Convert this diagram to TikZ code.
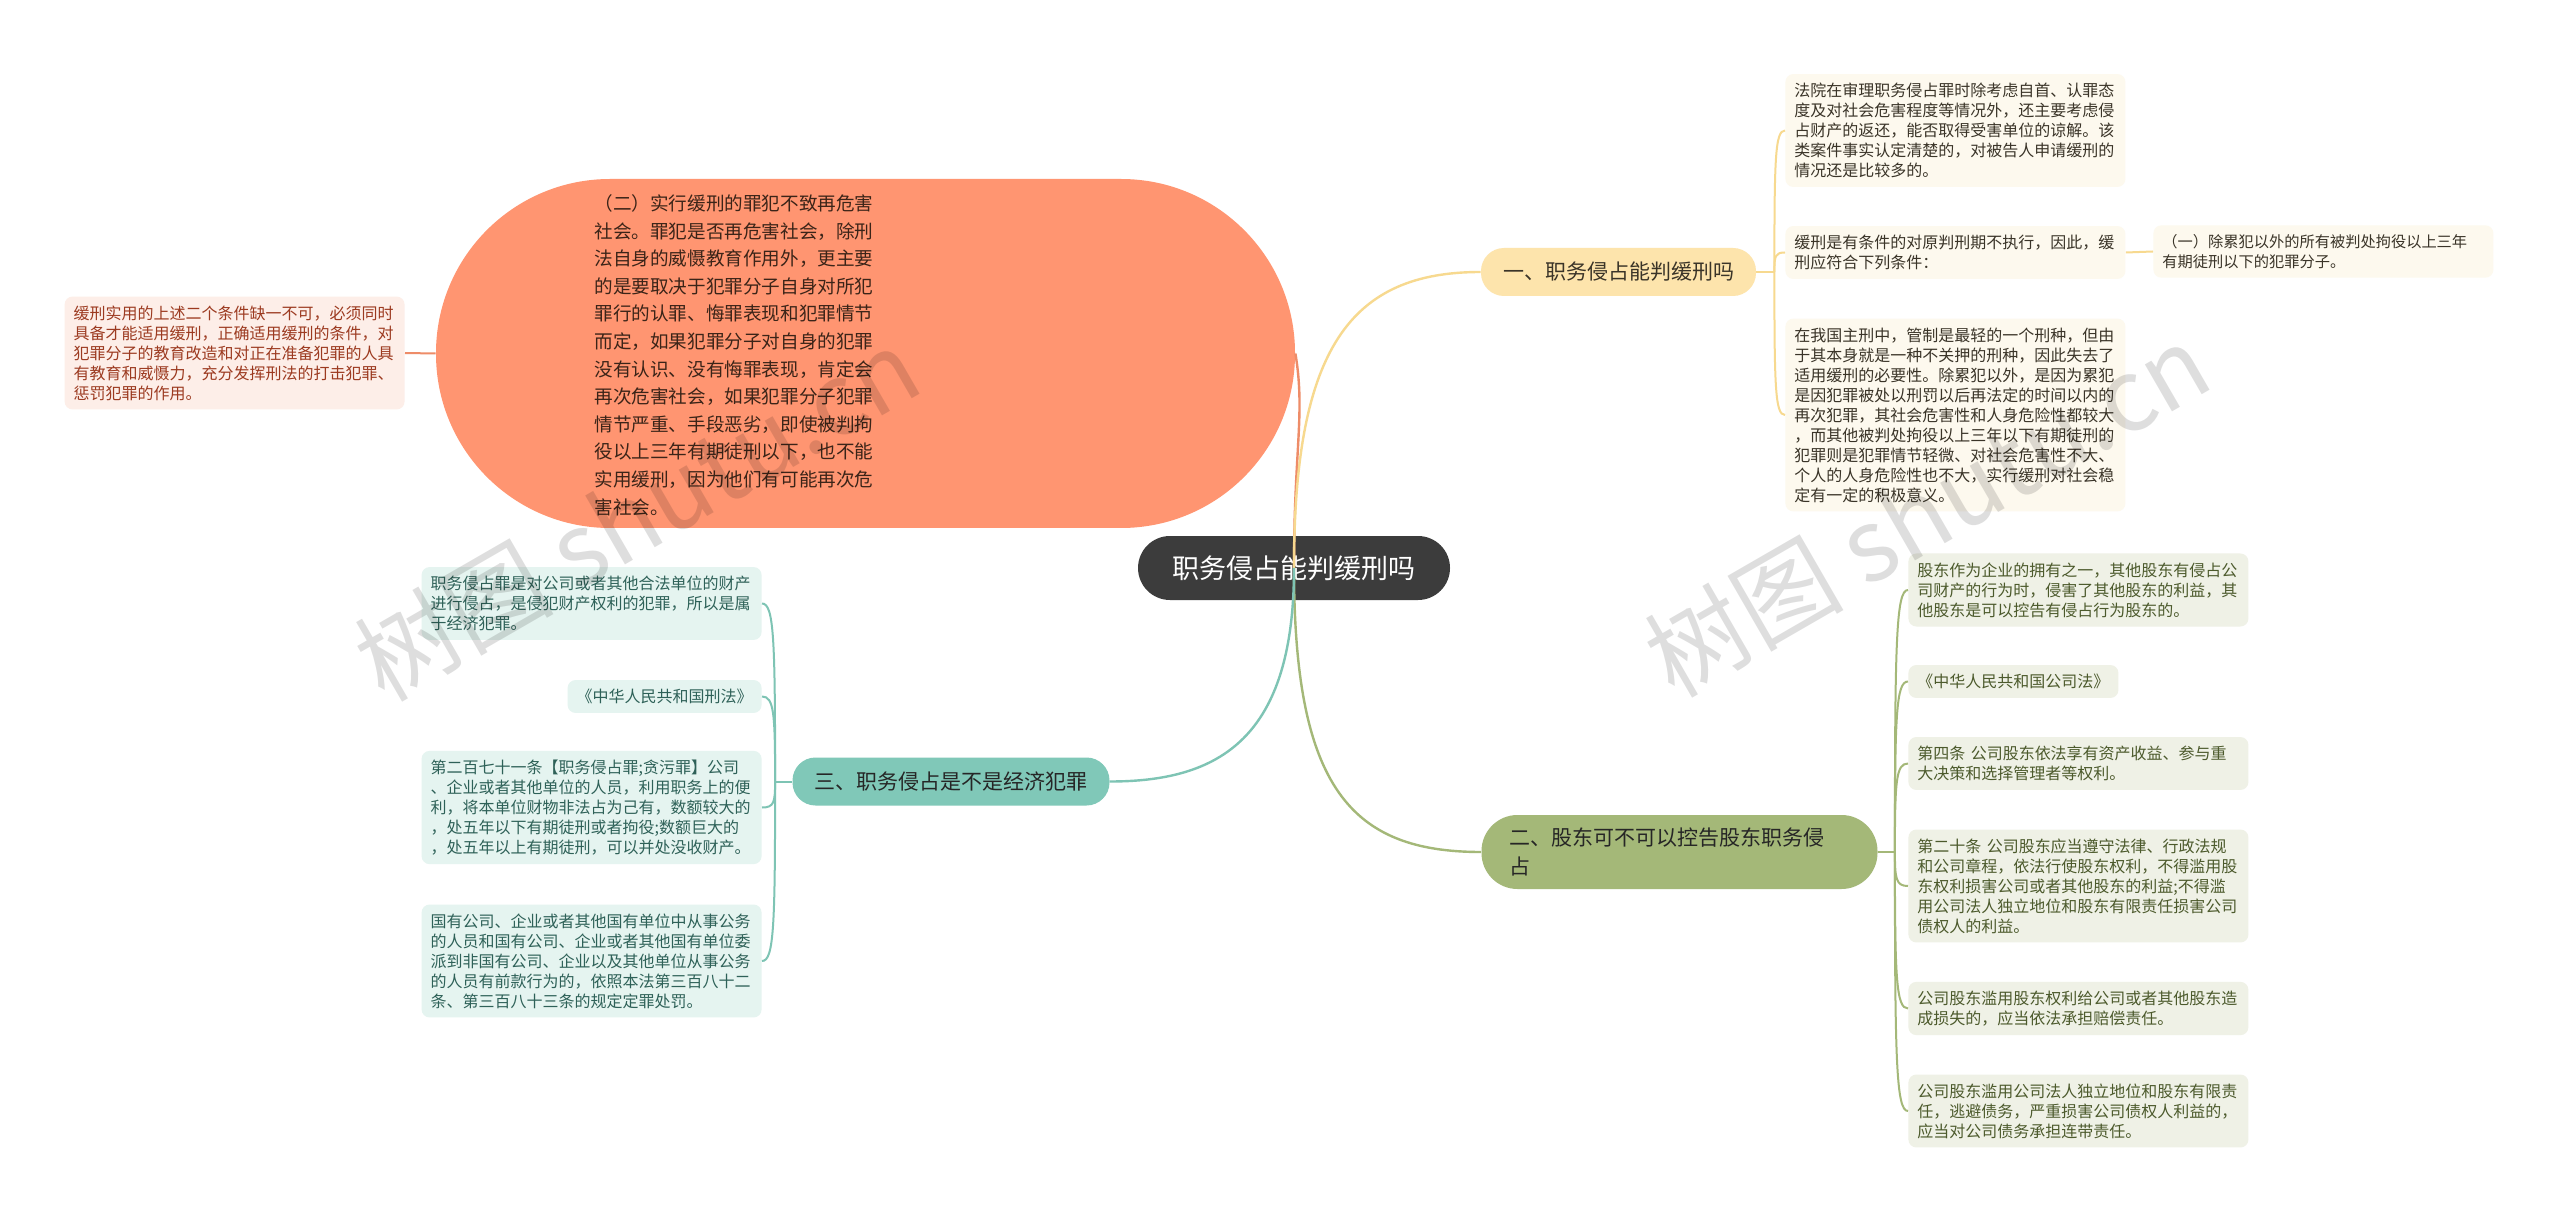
\documentclass[tikz,border=0pt]{standalone}
\usepackage{fontspec}
\setmainfont{Noto Sans CJK SC}

\definecolor{rootfill}{HTML}{3C3C3C}
\definecolor{ofill}{HTML}{FF9571}
\definecolor{oline}{HTML}{EE8C68}
\definecolor{otext}{HTML}{3B2418}
\definecolor{pfill}{HTML}{FDEEE8}
\definecolor{ptext}{HTML}{9C3A20}
\definecolor{ybranch}{HTML}{FDE4AC}
\definecolor{yline}{HTML}{F7D98F}
\definecolor{yfill}{HTML}{FDF9EE}
\definecolor{ytext}{HTML}{3A3428}
\definecolor{gbranch}{HTML}{A4B878}
\definecolor{gline}{HTML}{A4B878}
\definecolor{gfill}{HTML}{EFF1E6}
\definecolor{gtext}{HTML}{4C5A2C}
\definecolor{tbranch}{HTML}{80C8B8}
\definecolor{tline}{HTML}{7EC4B4}
\definecolor{tfill}{HTML}{E5F4F0}
\definecolor{ttext}{HTML}{2E6158}

\tikzset{
  rootnode/.style={fill=rootfill, text=white, rounded corners=16pt,
    minimum width=156pt, minimum height=32pt, inner sep=0pt,
    font=\fontsize{13.5pt}{16pt}\selectfont},
  branch/.style={rounded corners=11.5pt, inner xsep=11pt, inner ysep=5pt,
    minimum height=24pt, font=\fontsize{10.5pt}{14.5pt}\selectfont},
  leaf/.style={rounded corners=4pt, inner xsep=4.5pt, inner ysep=4.5pt,
    align=left, font=\fontsize{8pt}{10pt}\selectfont},
  wide/.style={text width=161pt},
  pleaf/.style={leaf, wide, fill=pfill, text=ptext},
  yleaf/.style={leaf, fill=yfill, text=ytext},
  gleaf/.style={leaf, fill=gfill, text=gtext},
  tleaf/.style={leaf, fill=tfill, text=ttext},
  link/.style={line width=1pt},
  mainlink/.style={line width=1.2pt},
  wmark/.style={text=black, opacity=0.13, rotate=30,
    font=\fontsize{50pt}{50pt}\selectfont}
}

\begin{document}
\begin{tikzpicture}[x=0.5pt, y=-0.5pt]
\useasboundingbox[fill=white] (0,0) rectangle (2560,1219);

\node[rootnode] (root) at (1294,568) {职务侵占能判缓刑吗};

% (二) big orange node
\node[fill=ofill, rounded corners=87pt, minimum width=429.5pt,
  minimum height=174.5pt, inner sep=0pt] (b0) at (865.5,353.5) {};
\node[anchor=west, inner sep=0pt, text width=140pt, align=left, text=otext,
  font=\fontsize{9.3pt}{13.8pt}\selectfont] (b0text) at (594,355)
  {（二）实行缓刑的罪犯不致再危害\\社会。罪犯是否再危害社会，除刑\\法自身的威慑教育作用外，更主要\\的是要取决于犯罪分子自身对所犯\\罪行的认罪、悔罪表现和犯罪情节\\而定，如果犯罪分子对自身的犯罪\\没有认识、没有悔罪表现，肯定会\\再次危害社会，如果犯罪分子犯罪\\情节严重、手段恶劣，即使被判拘\\役以上三年有期徒刑以下，也不能\\实用缓刑，因为他们有可能再次危\\害社会。};
\node[pleaf, anchor=east] (l0) at (405,353)
  {缓刑实用的上述二个条件缺一不可，必须同时\\具备才能适用缓刑，正确适用缓刑的条件，对\\犯罪分子的教育改造和对正在准备犯罪的人具\\有教育和威慑力，充分发挥刑法的打击犯罪、\\惩罚犯罪的作用。};

% 一
\node[branch, fill=ybranch, text=ytext] (b1) at (1618.5,272) {一、职务侵占能判缓刑吗};
\node[yleaf, wide, anchor=west] (l1a) at (1785,130.5)
  {法院在审理职务侵占罪时除考虑自首、认罪态\\度及对社会危害程度等情况外，还主要考虑侵\\占财产的返还，能否取得受害单位的谅解。该\\类案件事实认定清楚的，对被告人申请缓刑的\\情况还是比较多的。};
\node[yleaf, wide, anchor=west] (l1b) at (1785,252.5)
  {缓刑是有条件的对原判刑期不执行，因此，缓\\刑应符合下列条件：};
\node[yleaf, wide, anchor=west, font=\fontsize{7.62pt}{10pt}\selectfont] (l1b1) at (2153,251.5)
  {（一）除累犯以外的所有被判处拘役以上三年\\有期徒刑以下的犯罪分子。};
\node[yleaf, wide, anchor=west] (l1c) at (1785,415)
  {在我国主刑中，管制是最轻的一个刑种，但由\\于其本身就是一种不关押的刑种，因此失去了\\适用缓刑的必要性。除累犯以外，是因为累犯\\是因犯罪被处以刑罚以后再法定的时间以内的\\再次犯罪，其社会危害性和人身危险性都较大\\，而其他被判处拘役以上三年以下有期徒刑的\\犯罪则是犯罪情节轻微、对社会危害性不大、\\个人的人身危险性也不大，实行缓刑对社会稳\\定有一定的积极意义。};

% 二
\node[branch, fill=gbranch, text=black!85, text width=170pt, align=left,
  inner xsep=14pt, minimum height=37pt, rounded corners=18pt] (b2) at (1679.5,852)
  {二、股东可不可以控告股东职务侵\\占};
\node[gleaf, wide, anchor=west] (l2a) at (1908,590)
  {股东作为企业的拥有之一，其他股东有侵占公\\司财产的行为时，侵害了其他股东的利益，其\\他股东是可以控告有侵占行为股东的。};
\node[gleaf, anchor=west] (l2b) at (1908,681.5) {《中华人民共和国公司法》};
\node[gleaf, wide, anchor=west] (l2c) at (1908,763.5)
  {第四条 公司股东依法享有资产收益、参与重\\大决策和选择管理者等权利。};
\node[gleaf, wide, anchor=west] (l2d) at (1908,886)
  {第二十条 公司股东应当遵守法律、行政法规\\和公司章程，依法行使股东权利，不得滥用股\\东权利损害公司或者其他股东的利益;不得滥\\用公司法人独立地位和股东有限责任损害公司\\债权人的利益。};
\node[gleaf, wide, anchor=west] (l2e) at (1908,1008.5)
  {公司股东滥用股东权利给公司或者其他股东造\\成损失的，应当依法承担赔偿责任。};
\node[gleaf, wide, anchor=west] (l2f) at (1908,1111)
  {公司股东滥用公司法人独立地位和股东有限责\\任，逃避债务，严重损害公司债权人利益的，\\应当对公司债务承担连带责任。};

% 三
\node[branch, fill=tbranch, text=black!85, minimum width=156pt] (b3) at (951,781.5)
  {三、职务侵占是不是经济犯罪};
\node[tleaf, wide, anchor=east] (l3a) at (762,603.5)
  {职务侵占罪是对公司或者其他合法单位的财产\\进行侵占，是侵犯财产权利的犯罪，所以是属\\于经济犯罪。};
\node[tleaf, anchor=east] (l3b) at (762,696.5) {《中华人民共和国刑法》};
\node[tleaf, wide, anchor=east] (l3c) at (762,807.5)
  {第二百七十一条【职务侵占罪;贪污罪】公司\\、企业或者其他单位的人员，利用职务上的便\\利，将本单位财物非法占为己有，数额较大的\\，处五年以下有期徒刑或者拘役;数额巨大的\\，处五年以上有期徒刑，可以并处没收财产。};
\node[tleaf, wide, anchor=east] (l3d) at (762,961)
  {国有公司、企业或者其他国有单位中从事公务\\的人员和国有公司、企业或者其他国有单位委\\派到非国有公司、企业以及其他单位从事公务\\的人员有前款行为的，依照本法第三百八十二\\条、第三百八十三条的规定定罪处罚。};

% connectors
\draw[mainlink, oline] (root.center) .. controls +(0,-120) and +(10,60) .. (b0.east);
\draw[mainlink, yline] (root.center) .. controls +(0,-220) and +(-130,0) .. (b1.west);
\draw[mainlink, gline] (root.center) .. controls +(0,220) and +(-130,0) .. (b2.west);
\draw[mainlink, tline] (root.center) .. controls +(0,170) and +(110,0) .. (b3.east);
\draw[link, oline] (l0.east) -- (b0.west);

\draw[link, yline] (b1.east) -- ++(18,0) coordinate (s1);
\foreach \n/\d in {l1a/-113, l1b/-16, l1c/114}
  \draw[link, yline] (s1) .. controls +(0,\d) and +(-10,0) .. (\n.west);
\draw[link, yline] (l1b.east) -- (l1b1.west);

\draw[link, gline] (b2.east) -- ++(17,0) coordinate (s2);
\foreach \n/\d in {l2a/-210, l2b/-136, l2c/-71, l2d/27, l2e/125, l2f/207}
  \draw[link, gline] (s2) .. controls +(0,\d) and +(-12,0) .. (\n.west);

\draw[link, tline] (b3.west) -- ++(-17,0) coordinate (s3);
\foreach \n/\d in {l3a/-142, l3b/-68, l3c/21, l3d/144}
  \draw[link, tline] (s3) .. controls +(0,\d) and +(12,0) .. (\n.east);

% watermark
\node[wmark] (wm1) at (637,514) {树图 shutu.cn};
\node[wmark] (wm2) at (1927,510) {树图 shutu.cn};
\end{tikzpicture}
\end{document}
